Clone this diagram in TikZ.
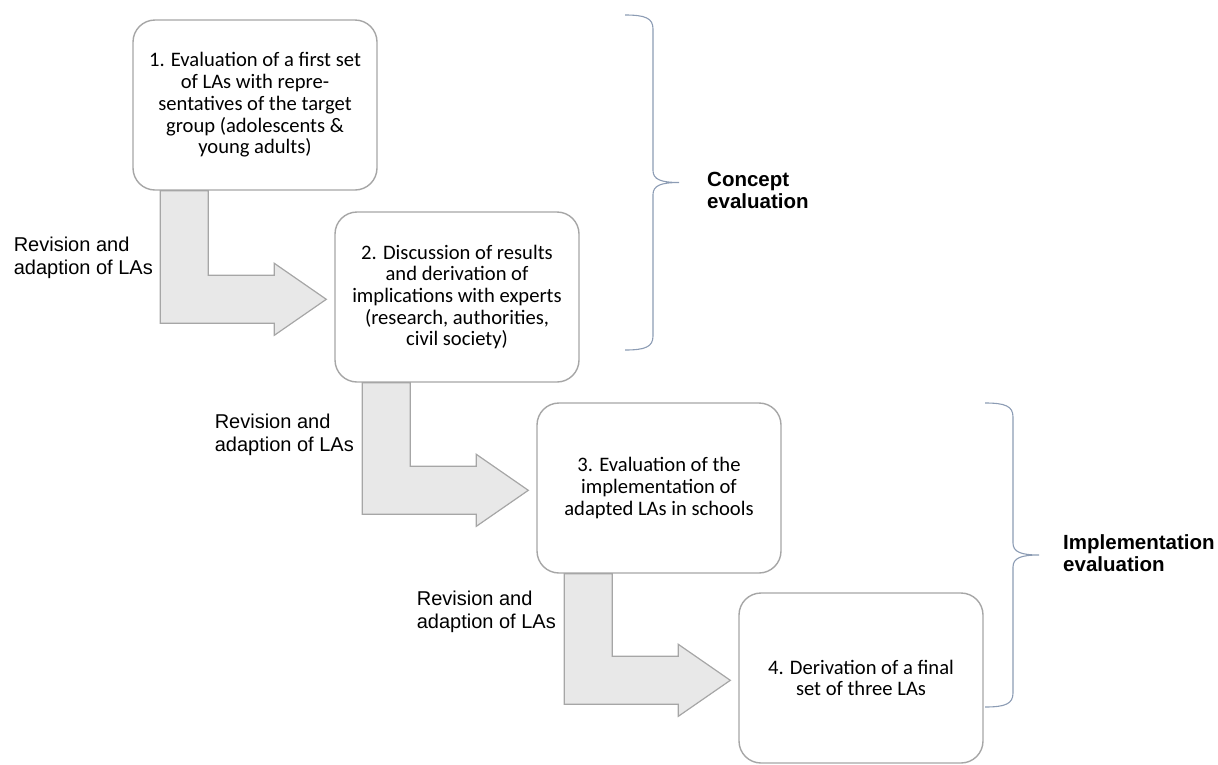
\documentclass[tikz,border=0pt]{standalone}
\usepackage{fontspec}
\setmainfont{Liberation Sans}
\newfontfamily\calibrifont{Carlito}
\usetikzlibrary{calc}

\definecolor{boxgray}{HTML}{A6A6A6}
\definecolor{arrowfill}{HTML}{E8E8E8}
\definecolor{bracegray}{HTML}{8C9CB4}

% bent block arrow from the bottom of one step to the left side of the next
\newcommand{\flowarrow}[2]{%
  \draw[bentarrow] ($(#1.south west)+(28,0)$) -- ($(#1.south west)+(76,0)$)
    |- ($(#2.north west)+(-60,64)$) -- ++(0,-12) -- ($(#2.north west)+(-8,88)$)
    -- ($(#2.north west)+(-60,124)$) -- ++(0,-12) -| ($(#1.south west)+(28,0)$) -- cycle;
}
% curly brace: #1 = x of the end tips, #2 = top, #3 = bottom
\newcommand{\phasebrace}[3]{%
  \draw[groupbrace] (#1,#2) .. controls ({#1+20},#2) and ({#1+28},{#2+3}) .. ({#1+28},{#2+14})
    -- ({#1+28},{(#2+#3)/2-12}) .. controls ({#1+28},{(#2+#3)/2-3}) and ({#1+36},{(#2+#3)/2}) .. ({#1+54},{(#2+#3)/2})
    .. controls ({#1+36},{(#2+#3)/2}) and ({#1+28},{(#2+#3)/2+3}) .. ({#1+28},{(#2+#3)/2+12})
    -- ({#1+28},{#3-14}) .. controls ({#1+28},{#3-3}) and ({#1+20},#3) .. (#1,#3);
}

\tikzset{
  stepbox/.style={draw=boxgray, line width=1.4pt, rounded corners=22pt, fill=white,
    minimum width=244pt, minimum height=170pt, align=center,
    font=\calibrifont\fontsize{20.6}{21.7}\selectfont},
  revlabel/.style={anchor=east, align=left, inner sep=0pt, font=\fontsize{20}{23}\selectfont},
  phaselabel/.style={anchor=west, align=left, inner sep=0pt, font=\bfseries\fontsize{20.5}{22}\selectfont},
  bentarrow/.style={draw=boxgray, line width=1.2pt, fill=arrowfill, line join=miter},
  groupbrace/.style={draw=bracegray, line width=1.1pt},
}

\begin{document}
\begin{tikzpicture}[x=1pt, y=-1pt]
  \useasboundingbox (0,0) rectangle (1218,764);

  % Steps
  \node[stepbox] (box1) at (255,105) {1. Evaluation of a first set\\of LAs with repre-\\sentatives of the target\\group (adolescents \&\\young adults)};
  \node[stepbox] (box2) at (457,297) {2. Discussion of results\\and derivation of\\implications with experts\\(research, authorities,\\civil society)};
  \node[stepbox] (box3) at (659,488) {3. Evaluation of the\\implementation of\\adapted LAs in schools};
  \node[stepbox] (box4) at (861,678) {4. Derivation of a final\\set of three LAs};

  % Arrows between steps
  \flowarrow{box1}{box2}
  \flowarrow{box2}{box3}
  \flowarrow{box3}{box4}

  \node[revlabel] (rev1) at (153,258) {Revision and\\adaption of LAs};
  \node[revlabel] (rev2) at (354,435) {Revision and\\adaption of LAs};
  \node[revlabel] (rev3) at (556,612) {Revision and\\adaption of LAs};

  % Phases
  \phasebrace{625}{15}{350}
  \phasebrace{985}{403}{707}
  \node[phaselabel] (concept) at (707,190) {Concept\\evaluation};
  \node[phaselabel] (implement) at (1063,553) {Implementation\\evaluation};
\end{tikzpicture}
\end{document}
